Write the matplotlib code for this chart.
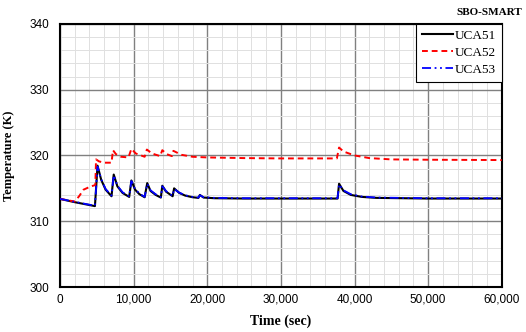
import matplotlib
matplotlib.use("Agg")
import matplotlib.pyplot as plt
from matplotlib.ticker import MultipleLocator, FuncFormatter

# time in seconds
t51 = [0, 2000, 4750, 5100, 5600, 6200, 7000, 7300, 7800, 8500, 9400, 9700, 10200, 10800,
       11500, 11850, 12300, 13000, 13700, 13900, 14400, 15300, 15500, 16200, 17000, 18000,
       18800, 19000, 19500, 21000, 25000, 37700, 37900, 38500, 39500, 41000, 43000, 50000, 60000]
uca51 = [313.4, 312.9, 312.3, 318.45, 316.3, 314.8, 313.8, 317.1, 315.3, 314.3, 313.7, 316.2,
         314.8, 314.1, 313.65, 315.8, 314.6, 314.0, 313.6, 315.4, 314.5, 313.8, 315.0, 314.3,
         313.9, 313.65, 313.55, 314.0, 313.6, 313.5, 313.45, 313.45, 315.7, 314.6, 314.0,
         313.7, 313.55, 313.45, 313.45]
uca53 = [313.4, 312.95, 312.35, 318.3, 316.4, 314.9, 313.9, 317.0, 315.4, 314.4, 313.8, 316.1,
         314.9, 314.2, 313.7, 315.7, 314.7, 314.1, 313.65, 315.3, 314.6, 313.85, 314.9, 314.35,
         313.95, 313.7, 313.6, 313.95, 313.65, 313.55, 313.5, 313.5, 315.6, 314.7, 314.1,
         313.75, 313.6, 313.5, 313.5]

t52 = [0, 2000, 2600, 3200, 3800, 4500, 4800, 4900, 5300, 6000, 7000, 7200, 7600, 8300, 9300,
       9700, 10300, 11500, 11800, 12500, 13600, 13900, 14500, 15200, 15400, 16500, 18000, 20000,
       25000, 30000, 37600, 37900, 38500, 40000, 42000, 45000, 50000, 60000]
uca52 = [313.4, 313.0, 313.8, 314.8, 315.1, 315.4, 315.5, 319.4, 319.1, 318.9, 318.9, 320.8,
         320.2, 319.8, 319.7, 321.0, 320.3, 319.8, 320.9, 320.3, 319.9, 320.8, 320.2, 319.9,
         320.7, 320.1, 319.8, 319.7, 319.6, 319.55, 319.55, 321.2, 320.6, 320.0, 319.6, 319.4,
         319.35, 319.3]

fig = plt.figure(figsize=(5.26, 3.32), dpi=100)
ax = fig.add_axes([0.114, 0.1355, 0.84, 0.7925])

ax.plot(t51, uca51, color="black", lw=1.5, label="UCA51", zorder=3)
ax.plot(t52, uca52, color="red", lw=1.4, ls=(0, (3, 2)), label="UCA52", zorder=3)
ax.plot(t51, uca53, color="blue", lw=1.3, ls=(0, (5, 2, 1, 2, 1, 2)), label="UCA53", zorder=4)

ax.set_xlim(0, 60000)
ax.set_ylim(300, 340)
ax.xaxis.set_major_locator(MultipleLocator(10000))
ax.xaxis.set_minor_locator(MultipleLocator(2000))
ax.yaxis.set_major_locator(MultipleLocator(10))
ax.yaxis.set_minor_locator(MultipleLocator(2))
ax.xaxis.set_major_formatter(FuncFormatter(lambda v, p: f"{int(v):,}"))
ax.grid(which="major", color="#808080", lw=1.0)
ax.grid(which="minor", color="#e0e0e0", lw=0.7)
ax.set_axisbelow(True)
ax.tick_params(which="both", length=0, labelsize=8.5)
ax.tick_params(axis="x", pad=5)
ax.tick_params(axis="y", pad=8)
for lab in ax.get_xticklabels() + ax.get_yticklabels():
    lab.set_fontfamily("Liberation Sans")
for s in ax.spines.values():
    s.set_linewidth(1.5)

ax.set_xlabel("Time (sec)", fontfamily="Liberation Serif", fontweight="bold", fontsize=10, labelpad=6)
ax.set_ylabel("Temperature (K)", fontfamily="Liberation Serif", fontweight="bold", fontsize=9, labelpad=10)
fig.text(0.993, 0.962, "SBO-SMART", ha="right", va="center", fontfamily="Liberation Serif",
         fontweight="bold", fontsize=8)

leg = ax.legend(loc="upper right", prop={"family": "Liberation Serif", "size": 9.5},
                fancybox=False, framealpha=1, edgecolor="black", borderaxespad=0,
                handlelength=2.4, handletextpad=0.1, labelspacing=0.35, borderpad=0.45)
leg.get_frame().set_linewidth(0.8)

fig.savefig("out.png", dpi=100)
